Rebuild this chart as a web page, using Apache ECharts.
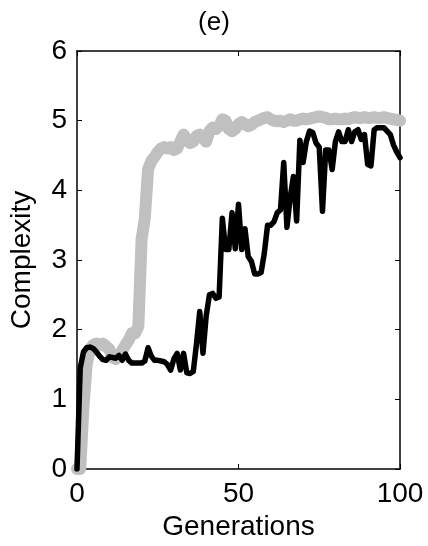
<!DOCTYPE html>
<html>
<head>
<meta charset="utf-8">
<script src="https://cdn.jsdelivr.net/npm/echarts@6/dist/echarts.min.js"></script>
<style>html,body{margin:0;padding:0;background:#fff}#c{width:428px;height:546px}</style>
</head>
<body>
<div id="c"></div>
<script>
const generations = [];
for (let g = 0; g <= 100; g++) generations.push(g);

const grayValues = [
  0, 0, 0.9, 1.5, 1.72, 1.78, 1.8, 1.78, 1.8, 1.76,
  1.72, 1.6, 1.58, 1.62, 1.7, 1.78, 1.85, 1.95, 1.95, 2.05,
  3.3, 3.6, 4.3, 4.42, 4.48, 4.55, 4.6, 4.62, 4.6, 4.62,
  4.58, 4.6, 4.7, 4.8, 4.72, 4.68, 4.7, 4.78, 4.8, 4.75,
  4.7, 4.85, 4.9, 4.88, 4.92, 5.02, 5.0, 4.88, 4.85, 4.88,
  4.95, 4.98, 4.95, 4.92, 4.94, 4.98, 5.0, 5.02, 5.04, 5.05,
  5.02, 5.0, 4.99, 5.0, 4.98, 5.0, 5.02, 5.0, 5.0, 5.02,
  5.03, 5.02, 5.03, 5.04, 5.05, 5.06, 5.05, 5.04, 5.02, 5.02,
  5.03, 5.02, 5.02, 5.03, 5.02, 5.04, 5.05, 5.04, 5.04, 5.05,
  5.04, 5.04, 5.05, 5.04, 5.04, 5.05, 5.04, 5.03, 5.02, 5.01,
  5.0
];

const blackValues = [
  0, 1.45, 1.68, 1.74, 1.75, 1.73, 1.68, 1.62, 1.57, 1.56,
  1.61, 1.6, 1.59, 1.63, 1.56, 1.65, 1.56, 1.52, 1.52, 1.52,
  1.52, 1.55, 1.74, 1.62, 1.56, 1.56, 1.55, 1.54, 1.5, 1.42,
  1.58, 1.66, 1.42, 1.66, 1.38, 1.37, 1.4, 1.8, 2.26, 1.66,
  2.2, 2.5, 2.52, 2.45, 2.47, 3.6, 3.15, 3.15, 3.68, 3.16,
  3.8, 3.15, 3.45, 3.05, 2.98, 2.8, 2.8, 2.82, 3.1, 3.5,
  3.5, 3.55, 3.68, 3.72, 4.4, 3.47, 3.9, 4.2, 3.56, 4.72,
  4.4, 4.7, 4.85, 4.83, 4.68, 4.62, 3.7, 4.58, 4.58, 4.3,
  4.7, 4.84, 4.7, 4.7, 4.87, 4.7, 4.84, 4.87, 4.73, 4.8,
  4.37, 4.35, 4.87, 4.9, 4.9, 4.9, 4.85, 4.8, 4.65, 4.55,
  4.47
];

const xTicks = [0, 50, 100];
const yTicks = [0, 1, 2, 3, 4, 5, 6];

const FONT = 'Liberation Sans, Arial, sans-serif';
const chart = echarts.init(document.getElementById('c'), null, {renderer: 'canvas'});

function axisLine() { return {show: true, onZero: false, lineStyle: {color: '#000', width: 1.5}}; }
function tick() { return {show: true, inside: true, length: 5, lineStyle: {color: '#000', width: 1}}; }

chart.setOption({
  animation: false,
  backgroundColor: '#fff',
  title: {
    text: '(e)', left: 'center', top: 5,
    textStyle: {fontFamily: FONT, fontSize: 26, fontWeight: 'normal', color: '#000'}
  },
  grid: {left: 77, right: 28, top: 51, bottom: 75, containLabel: false},
  xAxis: [
    {
      type: 'value', min: xTicks[0], max: xTicks[xTicks.length - 1], interval: 50,
      name: 'Generations', nameLocation: 'middle', nameGap: 44,
      nameTextStyle: {fontFamily: FONT, fontSize: 28, color: '#000'},
      axisLine: axisLine(), axisTick: tick(), splitLine: {show: false},
      axisLabel: {fontFamily: FONT, fontSize: 28, color: '#000', margin: 11}
    },
    {
      type: 'value', position: 'top', min: 0, max: 100, interval: 50,
      axisLine: axisLine(), axisTick: tick(), splitLine: {show: false}, axisLabel: {show: false}
    }
  ],
  yAxis: [
    {
      type: 'value', min: yTicks[0], max: yTicks[yTicks.length - 1], interval: 1,
      name: 'Complexity', nameLocation: 'middle', nameGap: 41, nameRotate: 90,
      nameTextStyle: {fontFamily: FONT, fontSize: 28, color: '#000'},
      axisLine: axisLine(), axisTick: tick(), splitLine: {show: false},
      axisLabel: {fontFamily: FONT, fontSize: 28, color: '#000', margin: 10}
    },
    {
      type: 'value', position: 'right', min: 0, max: 6, interval: 1,
      axisLine: axisLine(), axisTick: tick(), splitLine: {show: false}, axisLabel: {show: false}
    }
  ],
  series: [
    {
      type: 'line', showSymbol: false, symbol: 'none', clip: true,
      data: generations.map((g, i) => [g, grayValues[i]]),
      lineStyle: {color: '#c0c0c0', width: 12, join: 'round', cap: 'round'}
    },
    {
      type: 'line', showSymbol: false, symbol: 'none', clip: true,
      data: generations.map((g, i) => [g, blackValues[i]]),
      lineStyle: {color: '#000', width: 5.5, join: 'round', cap: 'round'}
    }
  ]
});
</script>
</body>
</html>
